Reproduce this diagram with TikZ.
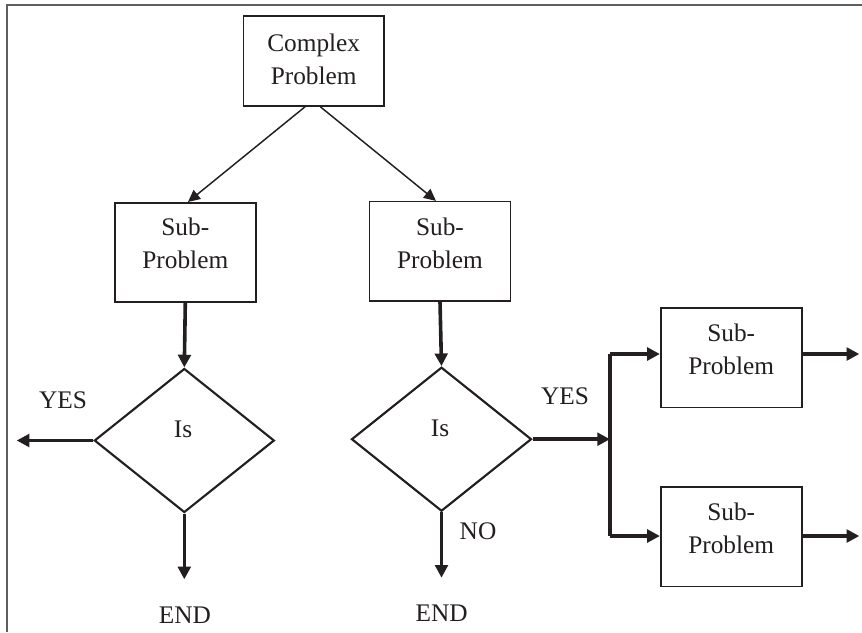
\documentclass[tikz,border=0pt]{standalone}
\usepackage{fontspec}
\setmainfont{Liberation Serif}
\usetikzlibrary{arrows.meta,shapes.geometric}
\definecolor{ink}{RGB}{35,31,32}
\definecolor{framegray}{RGB}{95,95,95}
\tikzset{
  box/.style={draw=ink,line width=1.2pt,rectangle,inner sep=0pt,minimum width=105.75pt,minimum height=74.6pt},
  bigbox/.style={box,minimum width=105.5pt,minimum height=67.5pt},
  dia/.style={draw=ink,line width=1.6pt,diamond,inner sep=0pt,minimum width=135pt,minimum height=108pt},
  txt/.style={text=ink,align=center,inner sep=0pt,font=\fontsize{19}{24.5}\selectfont},
  thin/.style={draw=ink,line width=1.1pt,-{Triangle[length=9pt,width=8.5pt]}},
  thick/.style={draw=ink,line width=2.7pt,-{Triangle[length=9.5pt,width=9.5pt]}},
  thickline/.style={draw=ink,line width=2.7pt},
}
\begin{document}
\begin{tikzpicture}[x=0.75pt,y=-0.75pt]
\useasboundingbox (0,0) rectangle (862,632);
% frame
\draw[framegray,line width=1.5pt] (862,5) -- (6.5,5) -- (6.5,632);
% nodes
\node[bigbox] (cp) at (313.7,61) {};
\node[txt] (cpt) at (313.7,59) {Complex\\Problem};
\node[box] (ls) at (185.3,252.5) {};
\node[txt] (lst) at (185.3,243.5) {Sub-\\Problem};
\node[box] (ms) at (440,251.4) {};
\node[txt] (mst) at (440,243.5) {Sub-\\Problem};
\node[box] (tr) at (731.2,357.8) {};
\node[txt] (trt) at (731.2,349) {Sub-\\Problem};
\node[box] (br) at (731.2,536.8) {};
\node[txt] (brt) at (731.2,528) {Sub-\\Problem};
\node[dia] (ld) at (184.3,440.5) {};
\node[txt] (ldt) at (183,429) {Is};
\node[dia] (rd) at (441.5,439.2) {};
\node[txt] (rdt) at (440,428) {Is};
% labels
\node[txt] (yl) at (63,400) {YES};
\node[txt] (yr) at (565,396.7) {YES};
\node[txt] (no) at (478,531.7) {NO};
\node[txt] (e1) at (185,615) {END};
\node[txt] (e2) at (441.7,613) {END};
% coordinates
\coordinate (lyes) at (16.7,440.5);
\coordinate (lend) at (184.3,579.3);
\coordinate (rend) at (441.5,577.7);
\coordinate (j) at (610,439.2);
\coordinate (jt) at (610,354);
\coordinate (jb) at (610,536);
\coordinate (o1) at (859.3,354);
\coordinate (o2) at (859.3,536);
% connectors
\draw[thin] ([xshift=-6.5pt]cp.south) -- ([xshift=2pt]ls.north);
\draw[thin] ([xshift=5pt]cp.south) -- ([xshift=-3pt]ms.north);
\draw[thick] (ls.south) -- (ld.north);
\draw[thick] (ms.south) -- (rd.north);
\draw[thick] (ld.west) -- (lyes);
\draw[thick] (ld.south) -- (lend);
\draw[thick] (rd.south) -- (rend);
\draw[thick] (rd.east) -- (j);
\draw[thickline] (jt) -- (jb);
\draw[thick] (jt) -- (jt -| tr.west);
\draw[thick] (jb) -- (jb -| br.west);
\draw[thick] (tr.east |- jt) -- (o1);
\draw[thick] (br.east |- jb) -- (o2);
\end{tikzpicture}
\end{document}
